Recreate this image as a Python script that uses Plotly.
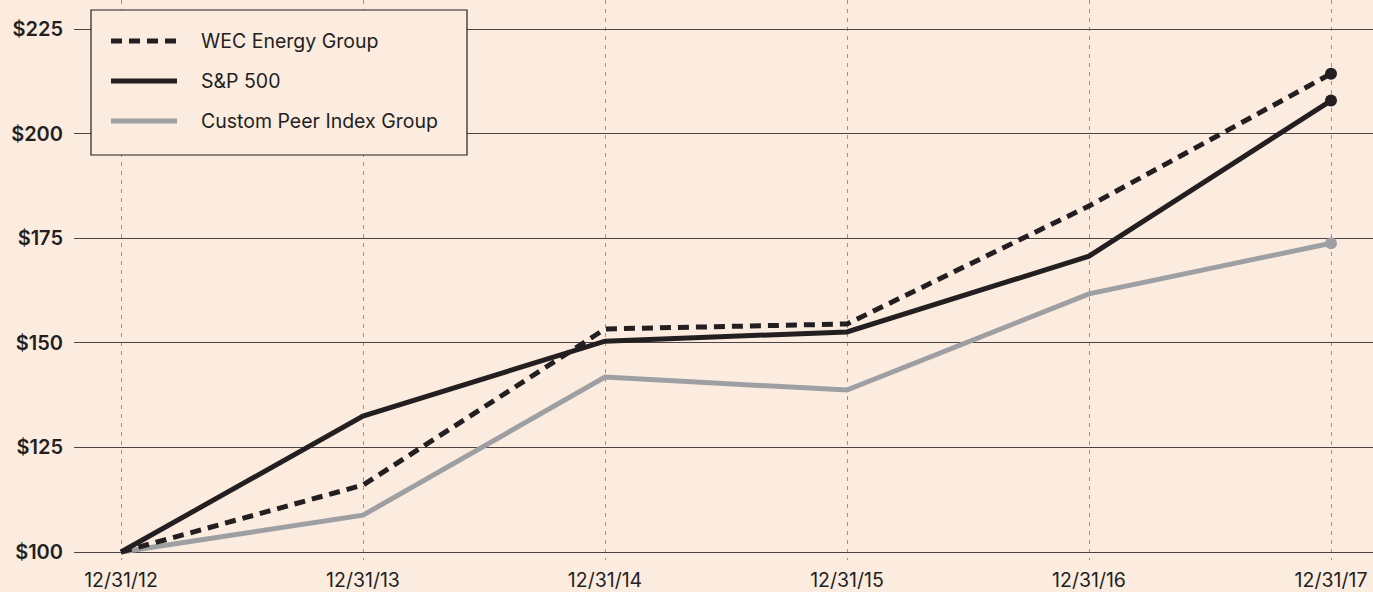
import plotly.graph_objects as go

dates = ["12/31/12", "12/31/13", "12/31/14", "12/31/15", "12/31/16", "12/31/17"]
wec = [100, 116.0, 153.3, 154.5, 182.7, 214.3]
sp500 = [100, 132.5, 150.4, 152.6, 170.7, 207.9]
peer = [100, 108.8, 141.8, 138.7, 161.7, 173.8]
y_ticks = [100, 125, 150, 175, 200, 225]
y_labels = ["$100", "$125", "$150", "$175", "$200", "$225"]

BG = "#fcece0"
DARK = "#231f20"
GRAY = "#9d9fa2"
W, H = 1373, 592
ML, MR, MT, MB = 74, 0, 0, 32
PW, PH = W - ML - MR, H - MT - MB

x = list(range(len(dates)))

fig = go.Figure()

def add_series(vals, color, dash):
    fig.add_trace(go.Scatter(
        x=x, y=vals, mode="lines", line=dict(color=color, width=5, dash=dash),
        showlegend=False, hoverinfo="skip", cliponaxis=False))
    fig.add_trace(go.Scatter(
        x=[x[-1]], y=[vals[-1]], mode="markers",
        marker=dict(color=color, size=12), showlegend=False,
        hoverinfo="skip", cliponaxis=False))

add_series(peer, GRAY, "solid")
add_series(sp500, DARK, "solid")
add_series(wec, DARK, "11px,7px")

# x range so category 0 sits at pixel 121 and 5 at 1331
px_per = (1331 - 121) / 5
x0 = -(121 - ML) / px_per
x1 = x0 + PW / px_per
# y range
ppu = (552 - 29) / 125
y0 = 100 - (MT + PH - 552) / ppu
y1 = 225 + (29 - MT) / ppu

fig.update_xaxes(range=[x0, x1], tickmode="array", tickvals=x, ticktext=dates,
                 showgrid=True, gridcolor="#9a9592", gridwidth=1, griddash="4px,5px",
                 zeroline=False, showline=False, ticks="",
                 tickfont=dict(family="Inter", size=19.5, color=DARK),
                 ticklabelstandoff=6)
fig.update_yaxes(range=[y0, y1], tickmode="array", tickvals=y_ticks, ticktext=y_labels,
                 showgrid=True, gridcolor="#4a4442", gridwidth=1,
                 zeroline=False, showline=False, ticks="",
                 tickfont=dict(family="Inter", size=20, color=DARK, weight=600),
                 ticklabelstandoff=10)

def px_x(p):
    return (p - ML) / PW

def px_y(p):
    return 1 - (p - MT) / PH

shapes = [dict(type="rect", xref="paper", yref="paper",
               x0=px_x(91), x1=px_x(467), y0=px_y(155), y1=px_y(10),
               fillcolor=BG, line=dict(color=DARK, width=1.2), layer="above")]
legend_items = [("WEC Energy Group", DARK, "11px,7px", 41),
                ("S&P 500", DARK, "solid", 81),
                ("Custom Peer Index Group", GRAY, "solid", 121)]
annotations = []
for name, color, dash, yy in legend_items:
    shapes.append(dict(type="line", xref="paper", yref="paper",
                       x0=px_x(111), x1=px_x(177), y0=px_y(yy), y1=px_y(yy),
                       line=dict(color=color, width=5, dash=dash), layer="above"))
    annotations.append(dict(xref="paper", yref="paper", x=px_x(199), y=px_y(yy),
                            text=name, showarrow=False, xanchor="left", yanchor="middle",
                            font=dict(family="Inter", size=19.5, color=DARK)))

fig.update_layout(width=W, height=H, margin=dict(l=ML, r=MR, t=MT, b=MB),
                  paper_bgcolor=BG, plot_bgcolor=BG, showlegend=False,
                  shapes=shapes, annotations=annotations)

fig.write_html("out.html", config={"displayModeBar": False},
               post_script="document.body.style.margin='0';document.body.style.padding='0';document.body.style.overflow='hidden';")
